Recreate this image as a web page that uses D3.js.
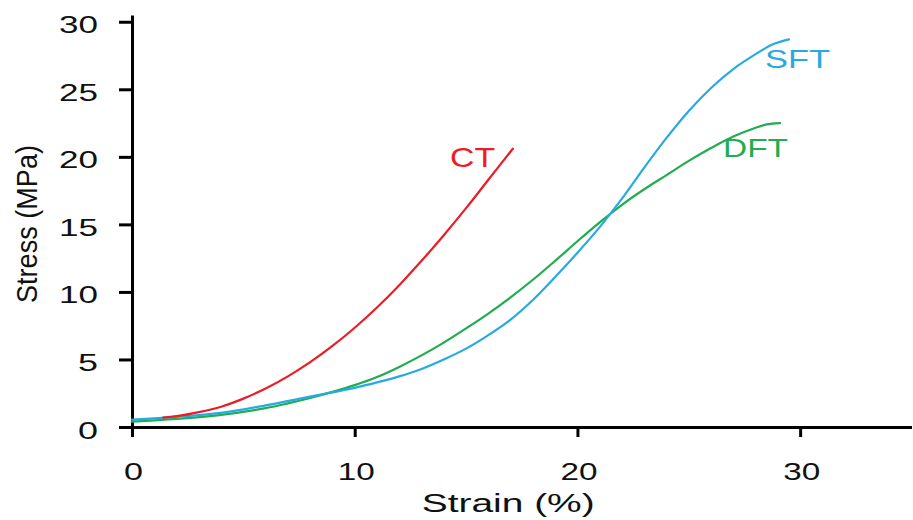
<!DOCTYPE html>
<html>
<head>
<meta charset="utf-8">
<script src="https://cdn.jsdelivr.net/npm/d3@7"></script>
<style>
  html, body { margin: 0; padding: 0; background: #fff; }
  svg { display: block; font-family: "Liberation Sans", Arial, sans-serif; }
</style>
</head>
<body>
<svg id="chart" width="913" height="520"></svg>
<script>
// Stress–strain curves for three tissue types
const ctStrain  = [1.4, 2, 3, 4, 5, 6, 7, 8, 9, 10, 11, 12, 13, 14, 15, 16, 17.1];
const ctStress  = [0.7, 0.8, 1.1, 1.5, 2.1, 2.85, 3.75, 4.8, 6.0, 7.35, 8.85, 10.5, 12.3, 14.2, 16.2, 18.3, 20.6];

const sftStrain = [0, 2, 4, 6, 8, 10, 11, 12, 13, 14, 15, 16, 17, 18, 19, 20, 21, 22, 23, 24, 25, 26, 27, 28, 28.8, 29.5];
const sftStress = [0.55, 0.75, 1.05, 1.6, 2.25, 2.9, 3.3, 3.75, 4.3, 5.0, 5.8, 6.8, 7.95, 9.4, 11.1, 12.9, 14.8, 16.9, 19.2, 21.4, 23.4, 25.1, 26.5, 27.6, 28.35, 28.7];

const dftStrain = [0, 2, 4, 6, 7, 8, 9, 10, 11, 12, 13, 14, 15, 16, 17, 18, 19, 20, 21, 22, 23, 24, 25, 26, 27, 28, 28.5, 29.1];
const dftStress = [0.4, 0.6, 0.9, 1.4, 1.75, 2.15, 2.6, 3.1, 3.7, 4.45, 5.3, 6.25, 7.3, 8.4, 9.6, 10.9, 12.3, 13.75, 15.15, 16.45, 17.6, 18.65, 19.7, 20.65, 21.5, 22.15, 22.4, 22.5];

const seriesNames  = ["CT", "SFT", "DFT"];
const seriesColors = ["#ec1c24", "#27aae1", "#1fad4f"];

const xTicks = [0, 10, 20, 30];
const yTicks = [0, 5, 10, 15, 20, 25, 30];

const xTitle = "Strain (%)";
const yTitle = "Stress (MPa)";

const svg = d3.select("#chart");

const x = d3.scaleLinear().domain([0, 35]).range([132, 911.5]);
const y = d3.scaleLinear().domain([0, 30.5]).range([427, 15]);

// Axes
const yAxis = d3.axisLeft(y).tickValues(yTicks).tickSize(13).tickSizeOuter(0).tickPadding(21);
const xAxis = d3.axisBottom(x).tickValues(xTicks).tickSize(10).tickSizeOuter(0).tickPadding(10);

const gy = svg.append("g").attr("transform", `translate(${x(0)},0)`).call(yAxis);
const gx = svg.append("g").attr("transform", `translate(0,${y(0)})`).call(xAxis);

[gx, gy].forEach(g => {
  g.select(".domain").attr("stroke", "#000").attr("stroke-width", 3);
  g.selectAll(".tick line").attr("stroke", "#000").attr("stroke-width", 3);
  g.selectAll(".tick text").attr("fill", "#111").attr("font-family", "Liberation Sans, Arial, sans-serif");
});

gy.selectAll(".tick text")
  .attr("font-size", 24)
  .attr("dy", null)
  .attr("y", 11)
  .attr("textLength", d => String(d).length > 1 ? 39 : 20)
  .attr("lengthAdjust", "spacingAndGlyphs");

gx.selectAll(".tick text")
  .attr("font-size", 24.5)
  .attr("dy", null)
  .attr("y", 52.5)
  .attr("x", 1)
  .attr("textLength", d => String(d).length > 1 ? 37 : 19)
  .attr("lengthAdjust", "spacingAndGlyphs");

// Axis titles
svg.append("text")
  .attr("x", 421.7).attr("y", 511.7)
  .attr("font-size", 25.5)
  .attr("fill", "#111")
  .attr("textLength", 173).attr("lengthAdjust", "spacingAndGlyphs")
  .text(xTitle);

svg.append("text")
  .attr("transform", "translate(36.5,224) rotate(-90)")
  .attr("text-anchor", "middle")
  .attr("font-size", 30)
  .attr("fill", "#111")
  .attr("textLength", 158).attr("lengthAdjust", "spacingAndGlyphs")
  .text(yTitle);

// Curves
const line = d3.line()
  .x(d => x(d[0]))
  .y(d => y(d[1]))
  .curve(d3.curveCatmullRom.alpha(0.5));

const series = [
  d3.zip(ctStrain, ctStress),
  d3.zip(sftStrain, sftStress),
  d3.zip(dftStrain, dftStress)
];

// green first, then blue, then red on top
[2, 1, 0].forEach(i => {
  svg.append("path")
    .datum(series[i])
    .attr("fill", "none")
    .attr("stroke", seriesColors[i])
    .attr("stroke-width", 2.2)
    .attr("stroke-linejoin", "round")
    .attr("stroke-linecap", "round")
    .attr("d", line);
});

// Curve labels
const labelPos = [
  { x: 450, y: 166.7, size: 28,   len: 45 },
  { x: 765, y: 68.3,  size: 25,   len: 65 },
  { x: 723, y: 156.7, size: 25.5, len: 65 }
];

seriesNames.forEach((name, i) => {
  svg.append("text")
    .attr("x", labelPos[i].x).attr("y", labelPos[i].y)
    .attr("font-size", labelPos[i].size)
    .attr("fill", seriesColors[i])
    .attr("textLength", labelPos[i].len).attr("lengthAdjust", "spacingAndGlyphs")
    .text(name);
});
</script>
</body>
</html>
